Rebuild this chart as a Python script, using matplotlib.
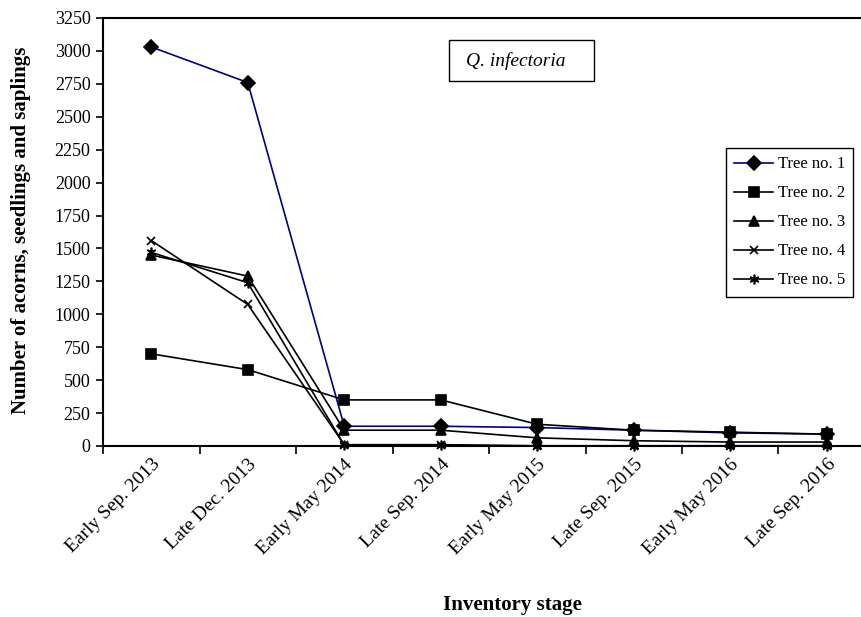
import matplotlib
matplotlib.use("Agg")
import matplotlib.pyplot as plt
from matplotlib.patches import Rectangle
from matplotlib.transforms import ScaledTranslation

stages = ["Early Sep. 2013", "Late Dec. 2013", "Early May 2014", "Late Sep. 2014",
          "Early May 2015", "Late Sep. 2015", "Early May 2016", "Late Sep. 2016"]
tree1 = [3030, 2760, 150, 150, 140, 120, 100, 90]
tree2 = [700, 580, 350, 350, 165, 120, 105, 90]
tree3 = [1450, 1290, 120, 120, 62, 40, 30, 30]
tree4 = [1560, 1075, 10, 10, 2, 2, 2, 2]
tree5 = [1470, 1240, 5, 5, 0, 0, 0, 0]
y_ticks = list(range(0, 3251, 250))

plt.rcParams['font.family'] = ['Liberation Serif', 'DejaVu Serif']

W, H = 861, 617
fig = plt.figure(figsize=(W / 100, H / 100), dpi=100)
ax = fig.add_axes([103 / W, 1 - 446 / H, 772 / W, 428 / H])

x = list(range(len(stages)))
series = [
    (tree1, "Tree no. 1", "D", "#000080", 7),
    (tree2, "Tree no. 2", "s", "black", 6.5),
    (tree3, "Tree no. 3", "^", "black", 7.5),
    (tree4, "Tree no. 4", "x", "black", 6),
    (tree5, "Tree no. 5", (6, 2, 0), "black", 7),
]
for vals, lab, mk, col, ms in series:
    ax.plot(x, vals, color=col, lw=1.2, marker=mk, markersize=ms,
            markerfacecolor="black", markeredgecolor="black",
            markeredgewidth=1.2, label=lab, clip_on=False, zorder=3)

ax.set_xlim(-0.5, len(stages) - 0.5)
ax.set_ylim(0, 3250)
ax.set_yticks(y_ticks)
ax.set_yticklabels([str(v) for v in y_ticks], fontsize=13)
ax.set_xticks([i - 0.5 for i in range(len(stages) + 1)])
ax.set_xticklabels([])
ax.set_xticks(x, minor=True)
ax.set_xticklabels(stages, minor=True, rotation=45, ha="right", va="top",
                   rotation_mode="anchor", fontsize=14)
off = ScaledTranslation(-0.05, 0, fig.dpi_scale_trans)
for lbl in ax.get_xticklabels(minor=True):
    lbl.set_transform(lbl.get_transform() + off)
ax.tick_params(axis="x", which="minor", length=0, pad=7)
ax.tick_params(axis="x", which="major", direction="out", length=6, width=1.2)
ax.tick_params(axis="y", direction="out", length=5, width=1.2, pad=4)
for s in ax.spines.values():
    s.set_linewidth(1.5)

fig.text(21 / W, 1 - 230 / H, "Number of acorns, seedlings and saplings",
         fontsize=15, fontweight="bold", rotation=90, ha="center", va="center")
fig.text(512 / W, 1 - 605 / H, "Inventory stage", fontsize=15,
         fontweight="bold", ha="center", va="center")

fig.patches.append(Rectangle((449 / W, 1 - 81 / H), 145 / W, 41 / H,
                             transform=fig.transFigure, fc="white",
                             ec="black", lw=1.0, zorder=5))
fig.text(516 / W, 1 - 61 / H, "Q. infectoria", fontsize=14, style="italic",
         ha="center", va="center", zorder=6)

leg = fig.legend(loc="upper left", bbox_to_anchor=(726 / W, 1 - 148 / H),
                 borderaxespad=0, fancybox=False, edgecolor="black",
                 framealpha=1, fontsize=12, handlelength=2.3,
                 labelspacing=0.78, handletextpad=0.3, borderpad=0.5)
leg.get_frame().set_linewidth(1.0)

fig.savefig("out.png", dpi=100)
